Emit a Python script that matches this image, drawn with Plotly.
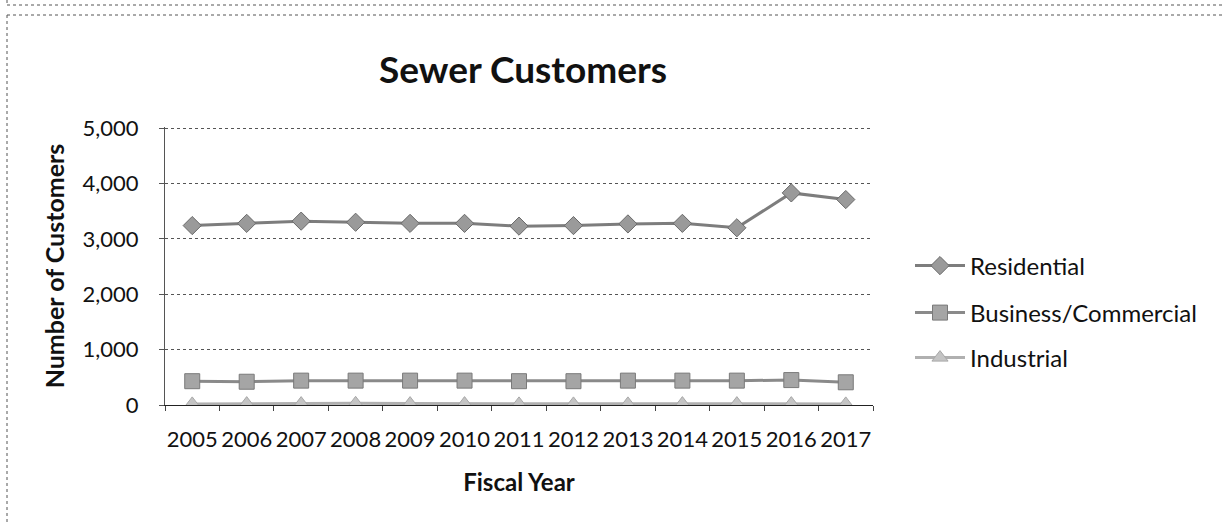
import plotly.graph_objects as go

years = ["2005", "2006", "2007", "2008", "2009", "2010", "2011", "2012", "2013", "2014", "2015", "2016", "2017"]
residential = [3240, 3280, 3320, 3300, 3280, 3280, 3230, 3240, 3270, 3280, 3200, 3830, 3710]
business = [430, 420, 440, 440, 440, 440, 430, 430, 440, 440, 440, 450, 410]
industrial = [20, 25, 25, 30, 25, 25, 20, 20, 20, 25, 25, 25, 20]

W, H = 1225, 523
FONT = "Lato, 'Open Sans', sans-serif"

def px(x):
    return x / W

def py(y):
    return 1 - y / H

fig = go.Figure()
fig.add_trace(go.Scatter(
    x=years, y=residential, name="Residential", mode="lines+markers",
    line=dict(color="#7d7d7d", width=3),
    marker=dict(symbol="diamond", size=14, color="#9a9a9a", line=dict(color="#6a6a6a", width=1)),
    legend="legend", showlegend=True))
fig.add_trace(go.Scatter(
    x=years, y=business, name="Business/Commercial", mode="lines+markers",
    line=dict(color="#8a8a8a", width=3),
    marker=dict(symbol="square", size=15, color="#a5a5a5", line=dict(color="#7a7a7a", width=1)),
    legend="legend2", showlegend=True))
fig.add_trace(go.Scatter(
    x=years, y=industrial, name="Industrial", mode="lines+markers",
    line=dict(color="#b0b0b0", width=3),
    marker=dict(symbol="triangle-up", size=14, color="#c4c4c4", line=dict(color="#a8a8a8", width=1)),
    legend="legend3", showlegend=True))

leg_common = dict(font=dict(family=FONT, size=24, color="#111"), bgcolor="rgba(0,0,0,0)",
                  xanchor="left", yanchor="middle", itemwidth=50, borderwidth=0)

fig.update_layout(
    width=W, height=H,
    margin=dict(l=0, r=0, t=0, b=0, autoexpand=False),
    paper_bgcolor="white", plot_bgcolor="white",
    showlegend=True,
    title=dict(text="<b>Sewer Customers</b>", x=px(523), xanchor="center", y=py(70), yanchor="middle",
               font=dict(family=FONT, size=37, color="#111")),
    xaxis=dict(domain=[px(165), px(873)], type="category", tickson="boundaries",
               range=[-0.5, len(years) - 0.5],
               ticks="outside", ticklen=5, tickcolor="#444", tickangle=0, automargin=False,
               ticklabelstandoff=15,
               showline=True, linecolor="#222", linewidth=1,
               tickfont=dict(family=FONT, size=22, color="#111"),
               title=dict(text="<b>Fiscal Year</b>", font=dict(family=FONT, size=24, color="#111"), standoff=22),
               showgrid=False),
    yaxis=dict(domain=[py(405), py(127)], range=[0, 5020], tickvals=[0, 1000, 2000, 3000, 4000, 5000],
               tickformat=",", showgrid=True, gridcolor="#555", gridwidth=1, griddash="dot",
               showline=True, linecolor="#555", linewidth=1, automargin=False,
               ticks="outside", ticklen=5, tickcolor="#555", zeroline=False, ticklabelstandoff=16,
               tickfont=dict(family=FONT, size=22, color="#111"),
               title=dict(text="<b>Number of Customers</b>", font=dict(family=FONT, size=25, color="#111"), standoff=10)),
    legend=dict(x=px(910), y=py(266), **leg_common),
    legend2=dict(x=px(910), y=py(313), **leg_common),
    legend3=dict(x=px(910), y=py(358), **leg_common),
    shapes=[
        dict(type="line", xref="paper", yref="paper", x0=px(7), x1=1, y0=py(5), y1=py(5),
             line=dict(color="#555", width=1, dash="dot")),
        dict(type="line", xref="paper", yref="paper", x0=px(7), x1=px(7), y0=py(0), y1=py(5),
             line=dict(color="#555", width=1, dash="dot")),
        dict(type="line", xref="paper", yref="paper", x0=px(7), x1=1, y0=py(15), y1=py(15),
             line=dict(color="#555", width=1, dash="dot")),
        dict(type="line", xref="paper", yref="paper", x0=px(7), x1=px(7), y0=py(15), y1=0,
             line=dict(color="#555", width=1, dash="dot")),
    ],
)

fig.write_html("out.html")
